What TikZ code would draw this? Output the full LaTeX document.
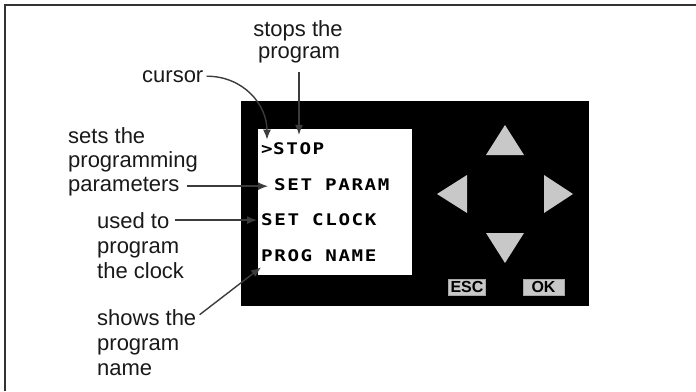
\documentclass[tikz,border=0pt]{standalone}
\usepackage{fontspec}
\setmainfont{Liberation Sans}
\newfontfamily\lcdfont[FakeStretch=1.2, LetterSpace=10]{DejaVu Sans Mono}
\usetikzlibrary{arrows.meta, positioning}
\definecolor{keygray}{RGB}{200,200,200}
\definecolor{arrgray}{RGB}{60,60,60}

\begin{document}
\begin{tikzpicture}[x=1pt, y=-1pt,
  every node/.style={inner sep=0pt},
  lbl/.style={anchor=base west, font=\fontsize{22}{24}\selectfont, text=black!90},
  lcd/.style={anchor=base west, font=\lcdfont\bfseries\fontsize{16}{18}\selectfont},
  keybtn/.style={draw=black!35, fill=keygray, font=\bfseries\fontsize{16}{16}\selectfont,
    minimum width=37pt, minimum height=16pt},
  keytri/.style={fill=keygray},
  arr/.style={-{Latex[length=10pt, width=8pt]}, line width=1.4pt, arrgray}
]
\useasboundingbox (0,0) rectangle (696,391);

% ===== FRAME =====
\draw[line width=2pt, black!80] (5,391) -- (5,5) -- (696,5);

% ===== PANEL + SCREEN =====
\fill[black] (241,101) rectangle (589,306);
\fill[white] (258,129) rectangle (412,275);

\node[lcd] (cur) at (261,154) {>};
\node[lcd] (stop) at (273,154) {STOP};
\node[lcd] (setparam) at (274,190) {SET PARAM};
\node[lcd] (setclock) at (261,225) {SET CLOCK};
\node[lcd] (progname) at (261,261) {PROG NAME};

% ===== KEYS =====
\fill[keytri] (505,125) -- (486,155) -- (524,155) -- cycle;
\fill[keytri] (505,263) -- (486,233) -- (524,233) -- cycle;
\fill[keytri] (437,194) -- (467,175) -- (467,213) -- cycle;
\fill[keytri] (573,194) -- (544,175) -- (544,213) -- cycle;
\node[keybtn] (esc) at (467,287) {ESC};
\node[keybtn, minimum width=41pt] (ok) at (543.5,287) {OK};

% ===== LABELS =====
\node[lbl, anchor=base] (stp1) at (298,36) {stops the};
\node[lbl, anchor=base] (stp2) at (299,58) {program};
\node[lbl] (cursor) at (142,82) {cursor};
\node[lbl] (par1) at (68,143) {sets the};
\node[lbl] (par2) at (68,167) {programming};
\node[lbl] (par3) at (68,191) {parameters};
\node[lbl] (clk1) at (97,228) {used to};
\node[lbl] (clk2) at (97,253) {program};
\node[lbl] (clk3) at (97,278) {the clock};
\node[lbl] (shw1) at (97,325) {shows the};
\node[lbl] (shw2) at (97,350) {program};
\node[lbl] (shw3) at (97,375) {name};

% ===== ARROWS =====
\draw[arr, shorten <=9pt, shorten >=7pt] (stp2.south) -- (stp2.south |- stop.north);
\draw[arr, shorten <=3pt, shorten >=5pt] (cursor.east) .. controls +(40,0) and +(0,-40) .. (cur.north);
\draw[arr, shorten <=7pt, shorten >=6pt] (par3.east) -- (par3.east -| setparam.west);
\draw[arr, shorten <=5pt, shorten >=4pt] (clk1.east) -- (clk1.east -| setclock.west);
\draw[arr, shorten <=4pt] (shw1.east) -- ([yshift=-6pt]progname.south west);
\end{tikzpicture}
\end{document}
